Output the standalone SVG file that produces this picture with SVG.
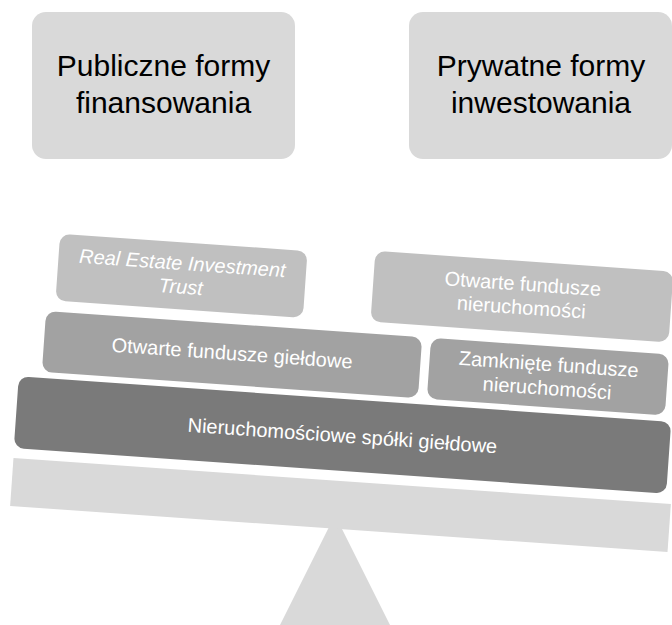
<svg xmlns="http://www.w3.org/2000/svg" width="672" height="625" viewBox="0 0 672 625">
<style>
.top{fill:#d9d9d9}
.ttxt{font-family:"Liberation Sans",Arial,sans-serif;font-size:30px;fill:#000;text-anchor:middle}
.stxt{font-family:"Liberation Sans",Arial,sans-serif;font-size:20px;fill:#fff;text-anchor:middle}
.light{fill:#c0c0c0}
.mid{fill:#a2a2a2}
.dark{fill:#7a7a7a}
.beam{fill:#d9d9d9}
</style>
<rect width="672" height="625" fill="#fff"/>
<g id="node-publiczne">
<rect class="top" x="32" y="12" width="263" height="147" rx="14"/>
<text class="ttxt" x="163.5" y="76">Publiczne formy</text>
<text class="ttxt" x="163.5" y="113">finansowania</text>
</g>
<g id="node-prywatne">
<rect class="top" x="409" y="12" width="263" height="147" rx="14"/>
<text class="ttxt" x="541" y="76">Prywatne formy</text>
<text class="ttxt" x="541" y="113">inwestowania</text>
</g>
<g id="fulcrum">
<polygon class="beam" points="335,515 280,625 390,625"/>
</g>
<g id="connectors"></g>
<g id="balance" transform="rotate(4 340.5 505)">
<g id="beam"><rect class="beam" x="11" y="481" width="659" height="48"/></g>
<g id="node-spolki">
<rect class="dark" x="10.6" y="399" width="654" height="72" rx="10"/>
<text class="stxt" x="337.6" y="442.5">Nieruchomościowe spółki giełdowe</text>
</g>
<g id="node-otwarte-gieldowe">
<rect class="mid" x="33.3" y="332" width="377" height="61" rx="10"/>
<text class="stxt" x="221.8" y="368">Otwarte fundusze giełdowe</text>
</g>
<g id="node-zamkniete">
<rect class="mid" x="419.2" y="332" width="238.6" height="61" rx="10"/>
<text class="stxt" x="538.5" y="356.9">Zamknięte fundusze</text>
<text class="stxt" x="538.5" y="380.9">nieruchomości</text>
</g>
<g id="node-reit">
<rect class="light" x="41.9" y="254" width="248" height="67" rx="10"/>
<text class="stxt" x="165.9" y="281.6" font-style="italic">Real Estate Investment</text>
<text class="stxt" x="165.9" y="305.2" font-style="italic">Trust</text>
</g>
<g id="node-otwarte-nieruchomosci">
<rect class="light" x="357.6" y="249" width="298.8" height="71" rx="10"/>
<text class="stxt" x="507" y="278.5">Otwarte fundusze</text>
<text class="stxt" x="507" y="302">nieruchomości</text>
</g>
</g>
</svg>
